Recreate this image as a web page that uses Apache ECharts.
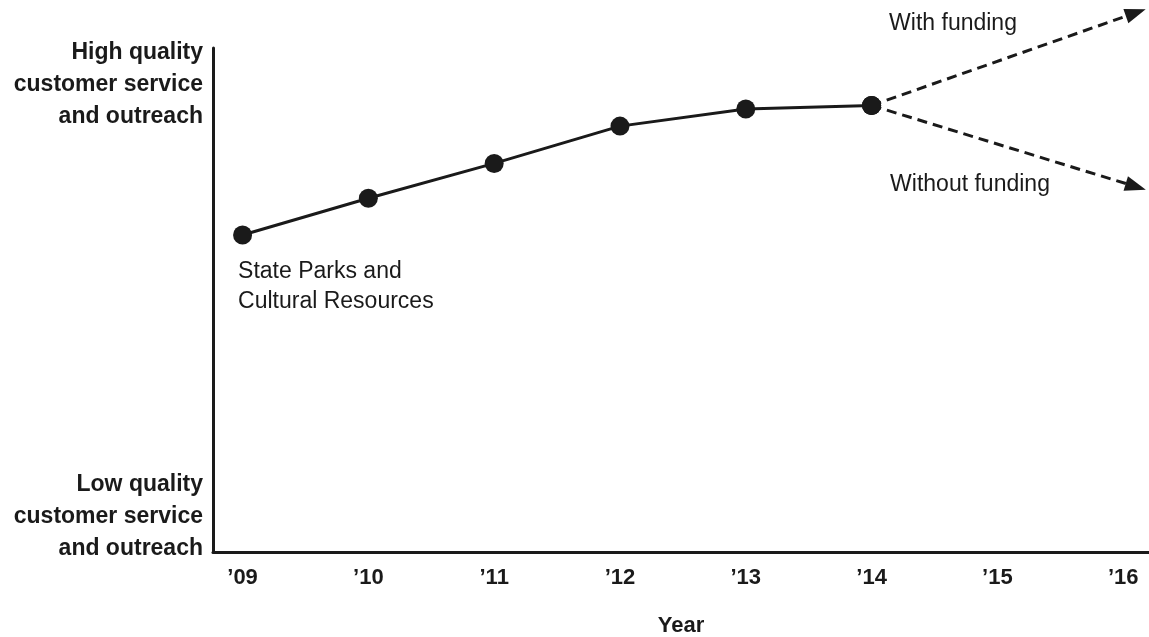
<!DOCTYPE html>
<html>
<head>
<meta charset="utf-8">
<style>
  html, body { margin: 0; padding: 0; background: #ffffff; overflow: hidden; }
  #chart { width: 1149px; height: 637px; }
</style>
<script src="https://cdn.jsdelivr.net/npm/echarts@6/dist/echarts.min.js"></script>
</head>
<body>
<div id="chart"></div>
<script>
// Service level by year (qualitative scale: 0 = low, 100 = high)
const years = [2009, 2010, 2011, 2012, 2013, 2014];
const serviceLevel = [62.9, 70.2, 77.1, 84.5, 87.9, 88.6];

// Projected paths after 2014
const projYears = [2014, 2016.1];
const withFunding = [88.6, 107];
const withoutFunding = [88.6, 72.5];

// Axis ticks and labels
const xTickYears = [2009, 2010, 2011, 2012, 2013, 2014, 2015, 2016];
const yTickValues = [7.1, 92.7];
const yTickLabels = [
  'Low quality\ncustomer service\nand outreach',
  'High quality\ncustomer service\nand outreach'
];

const seriesLabel = 'State Parks and\nCultural Resources';
const withLabel = 'With funding';
const withoutLabel = 'Without funding';

const INK = '#1a1a1a';
const FONT = '"Liberation Sans", Arial, Helvetica, sans-serif';

const chart = echarts.init(document.getElementById('chart'), null, { renderer: 'canvas', width: 1149, height: 637 });

function projData(values, label, labelPos, rotate) {
  return values.map((v, i) => {
    if (i === 0) {
      return {
        value: [projYears[i], v],
        symbol: 'circle',
        symbolSize: 19,
        label: {
          show: true,
          formatter: label,
          position: labelPos,
          align: 'left',
          verticalAlign: 'middle',
          color: INK,
          fontFamily: FONT,
          fontSize: 23
        }
      };
    }
    return {
      value: [projYears[i], v],
      symbol: 'triangle',
      symbolSize: [15, 21],
      symbolRotate: rotate
    };
  });
}

function buildOption(rotWith, rotWithout) {
  return {
    animation: false,
    backgroundColor: '#ffffff',
    grid: {
      left: 213, width: 936, top: 48, height: 504,
      containLabel: false,
      outerBoundsMode: 'none'
    },
    xAxis: {
      type: 'value',
      min: 2008.765,
      max: 2016.205,
      name: 'Year',
      nameLocation: 'middle',
      nameGap: 63,
      nameTextStyle: { color: INK, fontFamily: FONT, fontSize: 22, fontWeight: 'bold' },
      axisLine: { show: true, lineStyle: { color: INK, width: 3 } },
      axisTick: { show: false },
      splitLine: { show: false },
      axisLabel: {
        customValues: xTickYears,
        formatter: v => '\u2019' + String(Math.round(v)).slice(2),
        color: INK,
        fontFamily: FONT,
        fontSize: 22,
        fontWeight: 'bold',
        margin: 15
      }
    },
    yAxis: {
      type: 'value',
      min: 0,
      max: 100,
      axisLine: { show: true, lineStyle: { color: INK, width: 3 } },
      axisTick: { show: false },
      splitLine: { show: false },
      axisLabel: {
        customValues: yTickValues,
        formatter: v => yTickLabels[yTickValues.indexOf(v)],
        color: INK,
        fontFamily: FONT,
        fontSize: 23,
        fontWeight: 'bold',
        lineHeight: 32,
        align: 'right',
        margin: 10
      }
    },
    series: [
      {
        type: 'line',
        name: withLabel,
        clip: false,
        z: 2,
        data: projData(withFunding, withLabel, [27, -72], rotWith),
        lineStyle: { color: INK, width: 3, type: [10, 6] },
        itemStyle: { color: INK },
        emphasis: { disabled: true }
      },
      {
        type: 'line',
        name: withoutLabel,
        clip: false,
        z: 2,
        data: projData(withoutFunding, withoutLabel, [28, 89], rotWithout),
        lineStyle: { color: INK, width: 3, type: [10, 6] },
        itemStyle: { color: INK },
        emphasis: { disabled: true }
      },
      {
        type: 'line',
        name: seriesLabel,
        z: 3,
        data: years.map((y, i) => {
          const item = { value: [y, serviceLevel[i]] };
          if (i === 0) {
            item.label = {
              show: true,
              formatter: seriesLabel,
              position: [5, 31],
              align: 'left',
              verticalAlign: 'top',
              color: INK,
              fontFamily: FONT,
              fontSize: 23,
              lineHeight: 30
            };
          }
          return item;
        }),
        symbol: 'circle',
        symbolSize: 19,
        lineStyle: { color: INK, width: 3 },
        itemStyle: { color: INK },
        emphasis: { disabled: true }
      }
    ]
  };
}

chart.setOption(buildOption(0, 0));

// Point each arrowhead along its dashed segment, using the pixel direction
function arrowAngle(values) {
  const a = chart.convertToPixel({ gridIndex: 0 }, [projYears[0], values[0]]);
  const b = chart.convertToPixel({ gridIndex: 0 }, [projYears[1], values[1]]);
  const deg = Math.atan2(b[1] - a[1], b[0] - a[0]) * 180 / Math.PI;
  return -90 - deg;
}

chart.setOption(buildOption(arrowAngle(withFunding), arrowAngle(withoutFunding)));
</script>
</body>
</html>
